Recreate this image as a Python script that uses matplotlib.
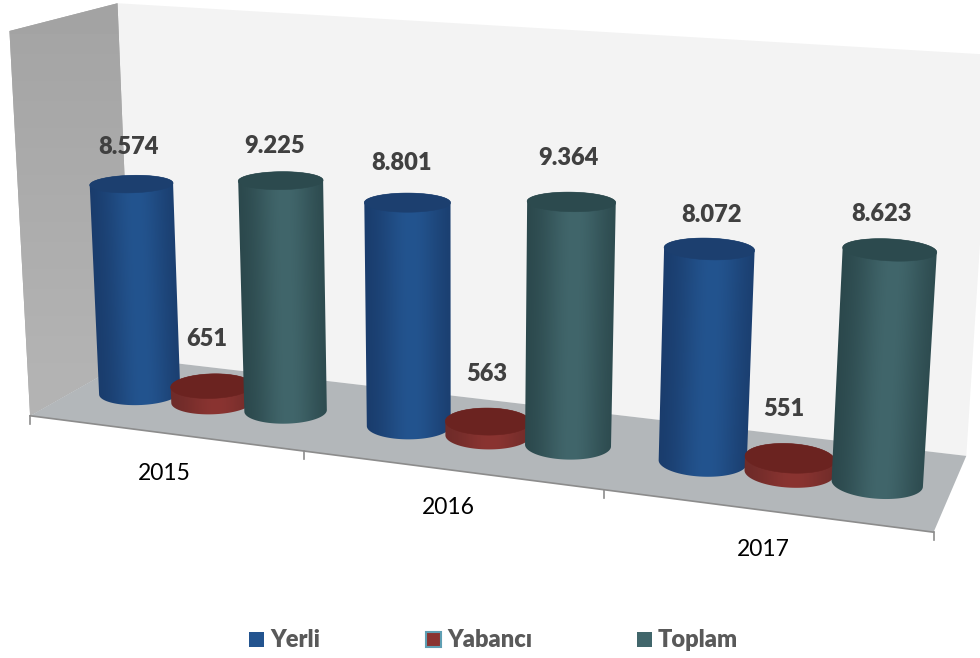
import numpy as np
import matplotlib
matplotlib.use("Agg")
import matplotlib.pyplot as plt
from matplotlib.patches import Polygon

years = ["2015", "2016", "2017"]
series = ["Yerli", "Yabancı", "Toplam"]
yerli = [8574, 8801, 8072]
yabanci = [651, 563, 551]
toplam = [9225, 9364, 8623]
yerli_labels = ["8.574", "8.801", "8.072"]
yabanci_labels = ["651", "563", "551"]
toplam_labels = ["9.225", "9.364", "8.623"]

# layout, in image pixels
label_pos = {
    "Yerli": [(128, 147), (401, 163), (711, 215)],
    "Yabancı": [(207, 339), (487, 374), (784, 409)],
    "Toplam": [(275, 146), (568, 158), (881, 214)],
}
year_pos = [(164, 473), (448, 508), (763, 550)]
legend_x = [249, 426, 637]

colors = {
    "Yerli": {"mid": "#23548f", "edge": "#193a69", "top": "#1c3f6f"},
    "Yabancı": {"mid": "#8a3431", "edge": "#6c2a28", "top": "#6b2320"},
    "Toplam": {"mid": "#41666b", "edge": "#294549", "top": "#2c4a4e"},
}

AXIS_MAX = 15000
DEPTH = 1.0

# box corners: (category pos, depth, value) -> pixel, used to fit the camera
world_pts = np.array([
    [0, 0, 0], [3, 0, 0], [3, DEPTH, 0], [0, DEPTH, 0],
    [0, 0, AXIS_MAX], [0, DEPTH, AXIS_MAX], [3, DEPTH, AXIS_MAX],
], dtype=float)
pixel_pts = np.array([
    [32, 416], [933, 533], [967, 455], [130, 358],
    [8, 30], [119, 4], [992, 55],
], dtype=float)


def fit_camera(world, pixels):
    rows = []
    for (x, y, z), (px, py) in zip(world, pixels):
        rows.append([x, y, z, 1, 0, 0, 0, 0, -px * x, -px * y, -px * z, -px])
        rows.append([0, 0, 0, 0, x, y, z, 1, -py * x, -py * y, -py * z, -py])
    _, _, vt = np.linalg.svd(np.array(rows))
    return vt[-1].reshape(3, 4)


P = fit_camera(world_pts, pixel_pts)


def project(x, y, z):
    x, y, z = np.broadcast_arrays(x, y, z)
    w = np.stack([x, y, z, np.ones_like(x)], axis=0).astype(float)
    p = P @ w.reshape(4, -1)
    return (p[0] / p[2]).reshape(x.shape), (p[1] / p[2]).reshape(x.shape)


def to_rgb(c):
    return np.array(matplotlib.colors.to_rgb(c))


def convex_hull(points):
    pts = sorted(map(tuple, points))

    def half(seq):
        out = []
        for p in seq:
            while len(out) > 1 and ((out[-1][0] - out[-2][0]) * (p[1] - out[-2][1])
                                    - (out[-1][1] - out[-2][1]) * (p[0] - out[-2][0])) <= 0:
                out.pop()
            out.append(p)
        return out[:-1]

    return np.array(half(pts) + half(pts[::-1]))


def draw_cylinder(ax, u, v, value, style, ru=0.139, rv=0.195, z=3):
    t = np.linspace(0, 2 * np.pi, 181)
    xb, yb = project(u + ru * np.cos(t), v + rv * np.sin(t), 0 * t)
    xt, yt = project(u + ru * np.cos(t), v + rv * np.sin(t), 0 * t + value)
    hull = convex_hull(np.r_[np.c_[xb, yb], np.c_[xt, yt]])

    # shading runs across the body and follows its lean
    x0, x1 = hull[:, 0].min() - 2, hull[:, 0].max() + 2
    y0, y1 = hull[:, 1].min() - 2, hull[:, 1].max() + 2
    gx, gy = np.meshgrid(np.arange(x0, x1, 0.5), np.arange(y0, y1, 0.5))
    yb_mid, yt_mid = (yb.min() + yb.max()) / 2, (yt.min() + yt.max()) / 2
    f = (gy - yt_mid) / (yb_mid - yt_mid)
    left = xt.min() + (xb.min() - xt.min()) * f
    right = xt.max() + (xb.max() - xt.max()) * f
    s = (gx - left) / (right - left) * 2 - 1
    k = np.exp(-((s - 0.08) / 0.72) ** 2)[..., None]
    img = to_rgb(style["edge"]) + (to_rgb(style["mid"]) - to_rgb(style["edge"])) * k

    im = ax.imshow(img, extent=(x0, x1, y1, y0), aspect="auto", zorder=z,
                   interpolation="bilinear")
    clip = Polygon(hull, closed=True, transform=ax.transData)
    im.set_clip_path(clip)
    ax.add_patch(Polygon(np.c_[xt, yt], closed=True, fc=style["top"], ec=style["top"],
                         lw=0.4, zorder=z + 0.5))


fig = plt.figure(figsize=(9.8, 6.58), dpi=100)
ax = fig.add_axes([0, 0, 1, 1])
ax.axis("off")


def box_face(corners, color):
    xs, ys = project(*np.array(corners, dtype=float).T)
    poly = Polygon(np.c_[xs, ys], closed=True, fc=color, ec="none", zorder=1)
    ax.add_patch(poly)
    return poly


# walls and floor
wall = [[0, DEPTH, 0], [3, DEPTH, 0], [3, DEPTH, AXIS_MAX], [0, DEPTH, AXIS_MAX]]
side = [[0, 0, 0], [0, DEPTH, 0], [0, DEPTH, AXIS_MAX], [0, 0, AXIS_MAX]]
floor = [[0, 0, 0], [3, 0, 0], [3, DEPTH, 0], [0, DEPTH, 0]]
box_face(wall, "#f3f3f3")
side_patch = box_face(side, "#a8a8a8")
grad = np.linspace(0.64, 0.71, 64)[:, None]
side_im = ax.imshow(grad, extent=(0, 140, 430, 0), cmap="gray", vmin=0, vmax=1,
                    aspect="auto", zorder=1.1)
side_im.set_clip_path(side_patch)
box_face(floor, "#b3b7ba").set_zorder(1.2)

# front edge and ticks
ex, ey = project(np.array([0.0, 3.0]), np.array([0.0, 0.0]), np.array([0.0, 0.0]))
ax.plot(ex, ey, color="#8c8c8c", lw=1.2, zorder=2)
for i in range(4):
    tx, ty = project(float(i), 0.0, 0.0)
    ax.plot([tx, tx], [ty, ty + 8], color="#8c8c8c", lw=1.2, zorder=2)

values = {"Yerli": yerli, "Yabancı": yabanci, "Toplam": toplam}
texts = {"Yerli": yerli_labels, "Yabancı": yabanci_labels, "Toplam": toplam_labels}
offset = {"Yerli": -0.278, "Yabancı": 0.0, "Toplam": 0.275}

# draw in this order so the red disc sits in front of blue and behind teal
for cat in range(len(years)):
    for j, name in enumerate(series):
        draw_cylinder(ax, cat + 0.5 + offset[name], DEPTH / 2, values[name][cat],
                      colors[name], z=3 + cat * 3 + j)

label_font = ["Lato", "DejaVu Sans"]
for name in series:
    for (lx, ly), txt in zip(label_pos[name], texts[name]):
        ax.text(lx, ly, txt, ha="center", va="center", fontsize=17, fontweight="heavy",
                color="#404040", family=label_font, zorder=30)

for (lx, ly), year in zip(year_pos, years):
    ax.text(lx, ly, year, ha="center", va="center", fontsize=16.5, color="black",
            family=label_font, zorder=30)

for lx, name in zip(legend_x, series):
    edge = "#5f9fb3" if name == "Yabancı" else colors[name]["mid"]
    ax.add_patch(plt.Rectangle((lx, 632), 15, 15, fc=colors[name]["mid"], ec=edge,
                               lw=1.5 if name == "Yabancı" else 0, zorder=30))
    ax.text(lx + 21, 640, name, ha="left", va="center", fontsize=17, fontweight="heavy",
            color="#595959", family=label_font, zorder=30)

ax.set_xlim(0, 980)
ax.set_ylim(658, 0)
fig.savefig("out.png", dpi=100)
